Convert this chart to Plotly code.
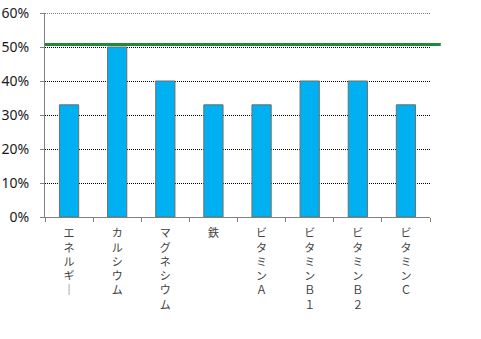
import plotly.graph_objects as go

categories = ["エネルギー", "カルシウム", "マグネシウム", "鉄", "ビタミンＡ", "ビタミンＢ１", "ビタミンＢ２", "ビタミンＣ"]
values = [33, 50, 40, 33, 33, 40, 40, 33]
y_ticks = [0, 10, 20, 30, 40, 50, 60]
y_ticklabels = ["0%", "10%", "20%", "30%", "40%", "50%", "60%"]
reference_level = [50.7]


def vertical(s):
    return "<br>".join("│" if ch == "ー" else ch for ch in s)


fig = go.Figure()
fig.add_trace(go.Bar(
    x=categories,
    y=values,
    marker=dict(color="#00B0F0", line=dict(color="#6F6F6F", width=1)),
    hoverinfo="skip",
))

# top gridline (plotly hides the gridline at the very edge of the range)
fig.add_shape(
    type="line", xref="paper", yref="y",
    x0=0, x1=1, y0=y_ticks[-1], y1=y_ticks[-1],
    line=dict(color="#000000", width=1, dash="1px,1px"),
    layer="below",
)

fig.add_shape(
    type="line", xref="paper", yref="y",
    x0=0, x1=1.028, y0=reference_level[0], y1=reference_level[0],
    line=dict(color="#1E8B3A", width=3),
)

fig.update_layout(
    width=481, height=339,
    margin=dict(l=45, r=51, t=13, b=122),
    plot_bgcolor="white", paper_bgcolor="white",
    bargap=0.6,
    showlegend=False,
    font=dict(family="Noto Sans", size=13, color="#000000"),
)
fig.update_xaxes(
    tickmode="array",
    tickvals=categories,
    ticktext=[vertical(c) for c in categories],
    tickangle=0,
    tickfont=dict(family="Noto Sans CJK JP", size=11, color="#404040"),
    showline=True, linecolor="#808080", linewidth=1,
    ticks="outside", tickson="boundaries", ticklen=4, tickcolor="#808080",
    ticklabelstandoff=6,
    showgrid=False,
    automargin=False,
)
fig.update_yaxes(
    range=[0, 60],
    tickmode="array",
    tickvals=y_ticks,
    ticktext=y_ticklabels,
    tickfont=dict(family="Noto Sans", size=14, color="#1a1a1a"),
    showline=True, linecolor="#808080", linewidth=1,
    ticks="outside", ticklen=4, tickcolor="#808080",
    ticklabelstandoff=8,
    showgrid=True, gridcolor="#000000", griddash="1px,1px", gridwidth=1,
    zeroline=False,
    automargin=False,
)

fig.write_html("out.html")
